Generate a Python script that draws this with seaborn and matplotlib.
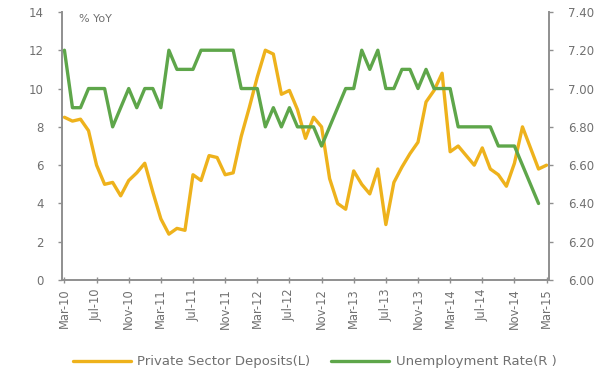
import numpy as np
import pandas as pd
import matplotlib
matplotlib.use("Agg")
import matplotlib.pyplot as plt
import seaborn as sns

# Monthly observations, Mar-2010 .. Mar-2015
months = pd.date_range("2010-03-01", "2015-03-01", freq="MS")
month_labels = [d.strftime("%b-%y") for d in months]

# Private sector deposit growth, % YoY (left axis)
deposits = [
    8.5, 8.3, 8.4, 7.8, 6.0, 5.0, 5.1, 4.4, 5.2, 5.6,
    6.1, 4.6, 3.2, 2.4, 2.7, 2.6, 5.5, 5.2, 6.5, 6.4,
    5.5, 5.6, 7.5, 9.0, 10.6, 12.0, 11.8, 9.7, 9.9, 8.9,
    7.4, 8.5, 8.0, 5.3, 4.0, 3.7, 5.7, 5.0, 4.5, 5.8,
    2.9, 5.1, 5.9, 6.6, 7.2, 9.3, 9.9, 10.8, 6.7, 7.0,
    6.5, 6.0, 6.9, 5.8, 5.5, 4.9, 6.1, 8.0, 6.9, 5.8,
    6.0,
]

# Unemployment rate, % (right axis); no Mar-15 reading
unemployment = [
    7.2, 6.9, 6.9, 7.0, 7.0, 7.0, 6.8, 6.9, 7.0, 6.9,
    7.0, 7.0, 6.9, 7.2, 7.1, 7.1, 7.1, 7.2, 7.2, 7.2,
    7.2, 7.2, 7.0, 7.0, 7.0, 6.8, 6.9, 6.8, 6.9, 6.8,
    6.8, 6.8, 6.7, 6.8, 6.9, 7.0, 7.0, 7.2, 7.1, 7.2,
    7.0, 7.0, 7.1, 7.1, 7.0, 7.1, 7.0, 7.0, 7.0, 6.8,
    6.8, 6.8, 6.8, 6.8, 6.7, 6.7, 6.7, 6.6, 6.5, 6.4,
    np.nan,
]

left_ticks = [0, 2, 4, 6, 8, 10, 12, 14]
right_ticks = [6.0, 6.2, 6.4, 6.6, 6.8, 7.0, 7.2, 7.4]

YELLOW = "#EEB21C"
GREEN = "#5EA64A"
GREY_TEXT = "#707070"
GREY_AXIS = "#8f8f8f"

df = pd.DataFrame({
    "idx": np.arange(len(months)),
    "deposits": deposits,
    "unemployment": unemployment,
})

sns.set_theme(style="white")
plt.rcParams["font.family"] = ["DejaVu Sans"]

fig = plt.figure(figsize=(6.11, 3.72), dpi=100)
ax = fig.add_axes([0.1015, 0.247, 0.797, 0.721])

sns.lineplot(data=df, x="idx", y="deposits", ax=ax, color=YELLOW,
             linewidth=2.4, label="Private Sector Deposits(L)", legend=False)
ax2 = ax.twinx()
sns.lineplot(data=df, x="idx", y="unemployment", ax=ax2, color=GREEN,
             linewidth=2.4, label="Unemployment Rate(R )", legend=False)

ax.set_xlim(-0.3, len(months) - 1 + 0.3)
ax.set_ylim(0, 14)
ax2.set_ylim(6.0, 7.4)
ax.set_yticks(left_ticks)
ax.set_yticklabels([str(t) for t in left_ticks])
ax2.set_yticks(right_ticks)
ax2.set_yticklabels([f"{t:.2f}" for t in right_ticks])

xt = list(range(0, len(months), 4))
ax.set_xticks(xt)
ax.set_xticklabels([month_labels[i] for i in xt], rotation=90)

ax.set_xlabel("")
ax.set_ylabel("")
ax2.set_ylabel("")

for a in (ax, ax2):
    a.grid(False)
    for s in a.spines.values():
        s.set_visible(False)
ax.spines["left"].set_visible(True)
ax.spines["bottom"].set_visible(True)
ax2.spines["right"].set_visible(True)
for s in (ax.spines["left"], ax.spines["bottom"], ax2.spines["right"]):
    s.set_color(GREY_AXIS)
    s.set_linewidth(1.4)

ax.tick_params(axis="y", which="major", left=True, length=3, width=1,
               color=GREY_AXIS, labelsize=8.5, labelcolor=GREY_TEXT, pad=10)
ax.tick_params(axis="x", which="major", bottom=True, length=4, width=1,
               direction="inout", color=GREY_AXIS, labelsize=8.3,
               labelcolor=GREY_TEXT, pad=4)
ax2.tick_params(axis="y", which="major", right=True, length=3, width=1,
                color=GREY_AXIS, labelsize=8.5, labelcolor=GREY_TEXT, pad=11)

ax.text(0.034, 0.975, "% YoY", transform=ax.transAxes, fontsize=8,
        color=GREY_TEXT, ha="left", va="center")

handles = ax.get_lines()[:1] + ax2.get_lines()[:1]
labels = ["Private Sector Deposits(L)", "Unemployment Rate(R )"]
fig.legend(handles, labels, loc="center", bbox_to_anchor=(0.515, 0.027),
           ncol=2, frameon=False, fontsize=9.5, handlelength=4.4,
           columnspacing=1.6, handletextpad=0.5, labelcolor=GREY_TEXT)

fig.savefig("out.png", dpi=100)
